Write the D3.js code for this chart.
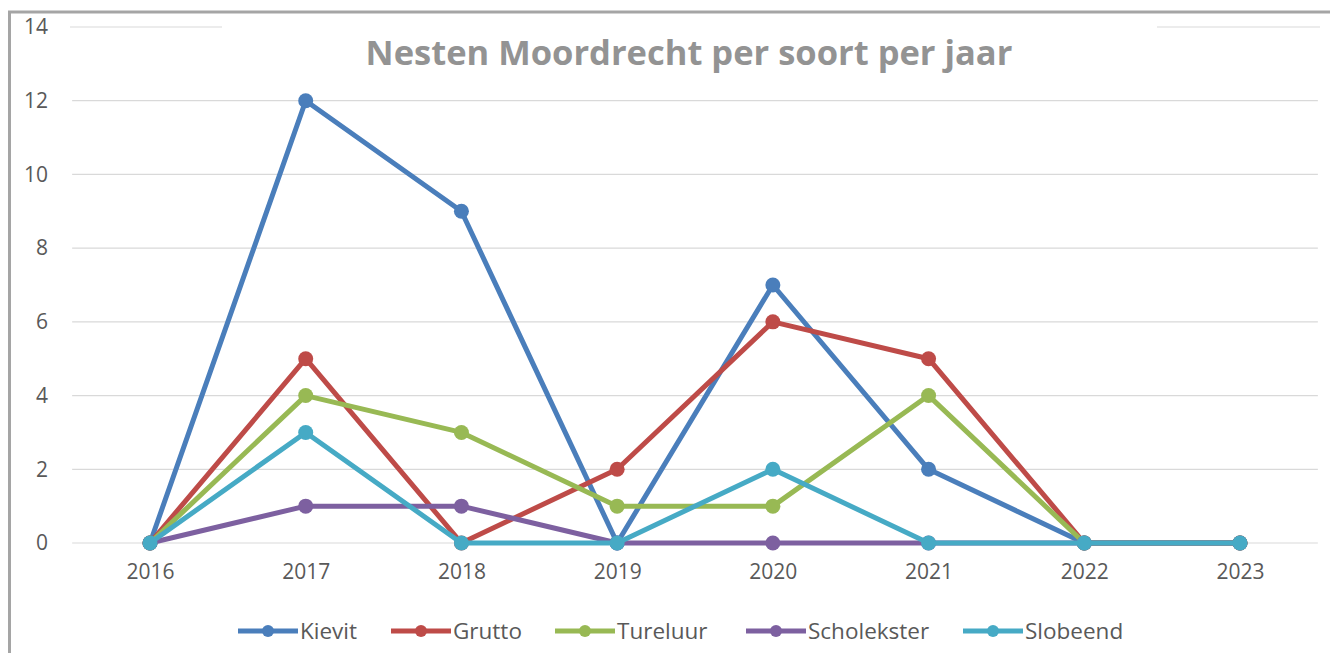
<!DOCTYPE html>
<html>
<head>
<meta charset="utf-8">
<script src="https://cdn.jsdelivr.net/npm/d3@7.9.0/dist/d3.min.js"></script>
<style>
  body { margin: 0; background: #fff; }
  svg { display: block; font-family: "Open Sans", sans-serif; }
</style>
</head>
<body>
<svg id="chart" width="1330" height="653"></svg>
<script>
// ---- data ----
const years = ["2016", "2017", "2018", "2019", "2020", "2021", "2022", "2023"];
const kievit      = [0, 12, 9, 0, 7, 2, 0, 0];
const grutto      = [0, 5, 0, 2, 6, 5, 0, 0];
const tureluur    = [0, 4, 3, 1, 1, 4, 0, 0];
const scholekster = [0, 1, 1, 0, 0, 0, 0, 0];
const slobeend    = [0, 3, 0, 0, 2, 0, 0, 0];
const yTicks = [0, 2, 4, 6, 8, 10, 12, 14];

const series = [
  { name: "Kievit", values: kievit, color: "#4a7ebb" },
  { name: "Grutto", values: grutto, color: "#be4b48" },
  { name: "Tureluur", values: tureluur, color: "#98b954" },
  { name: "Scholekster", values: scholekster, color: "#7d60a0" },
  { name: "Slobeend", values: slobeend, color: "#46aac5" }
];

const svg = d3.select("#chart");
const W = 1330, H = 653;

// frame
svg.append("path")
  .attr("d", `M9.5,${H} L9.5,12 L${W},12`)
  .attr("fill", "none")
  .attr("stroke", "#a5a5a5")
  .attr("stroke-width", 3);

const x = d3.scalePoint().domain(years).range([150, 1240]);
const y = d3.scaleLinear().domain([0, 14]).range([543, 27]);
const step = x.step();

// gridlines
const grid = svg.append("g");
yTicks.forEach(t => {
  if (t === 14) {
    grid.append("line").attr("x1", 70).attr("x2", 222).attr("y1", y(t)).attr("y2", y(t))
      .attr("stroke", "#d9d9d9").attr("stroke-width", 1.2);
    grid.append("line").attr("x1", 1157).attr("x2", 1320).attr("y1", y(t)).attr("y2", y(t))
      .attr("stroke", "#d9d9d9").attr("stroke-width", 1.2);
  } else {
    grid.append("line").attr("x1", x(years[0]) - step / 2).attr("x2", x(years[7]) + step / 2)
      .attr("y1", y(t)).attr("y2", y(t))
      .attr("stroke", "#d9d9d9").attr("stroke-width", 1.2);
  }
});

// y axis labels
const yAxis = svg.append("g")
  .attr("transform", "translate(48,0)")
  .call(d3.axisLeft(y).tickValues(yTicks).tickSize(0).tickPadding(0));
yAxis.select(".domain").remove();
yAxis.selectAll("text")
  .attr("fill", "#595959")
  .style("font-size", "21px")
  .style("font-family", "'Open Sans', sans-serif");

// x axis labels
const xAxis = svg.append("g")
  .attr("transform", "translate(0,564)")
  .call(d3.axisBottom(x).tickSize(0).tickPadding(0));
xAxis.select(".domain").remove();
xAxis.selectAll("text")
  .attr("fill", "#595959")
  .style("font-size", "21px")
  .style("font-family", "'Open Sans', sans-serif");

// title
svg.append("text")
  .attr("x", 689).attr("y", 65)
  .attr("text-anchor", "middle")
  .attr("fill", "#939393")
  .style("font-size", "34.5px")
  .style("font-weight", "bold")
  .text("Nesten Moordrecht per soort per jaar");

// lines
const line = d3.line()
  .x((d, i) => x(years[i]))
  .y(d => y(d));

series.forEach(s => {
  const g = svg.append("g");
  g.append("path")
    .datum(s.values)
    .attr("d", line)
    .attr("fill", "none")
    .attr("stroke", s.color)
    .attr("stroke-width", 5)
    .attr("stroke-linejoin", "round");
  g.selectAll("circle")
    .data(s.values)
    .join("circle")
    .attr("cx", (d, i) => x(years[i]))
    .attr("cy", d => y(d))
    .attr("r", 7.5)
    .attr("fill", s.color);
});

// legend
const legendX = [238, 391, 555, 746, 963];
const legend = svg.append("g").attr("transform", "translate(0,631)");
series.forEach((s, i) => {
  const g = legend.append("g").attr("transform", `translate(${legendX[i]},0)`);
  g.append("line").attr("x1", 0).attr("x2", 60).attr("y1", 0).attr("y2", 0)
    .attr("stroke", s.color).attr("stroke-width", 5);
  g.append("circle").attr("cx", 30).attr("cy", 0).attr("r", 6).attr("fill", s.color);
  g.append("text").attr("x", 62).attr("y", 0).attr("dy", "0.35em")
    .attr("fill", "#595959")
    .style("font-size", "22.5px")
    .text(s.name);
});
</script>
</body>
</html>
